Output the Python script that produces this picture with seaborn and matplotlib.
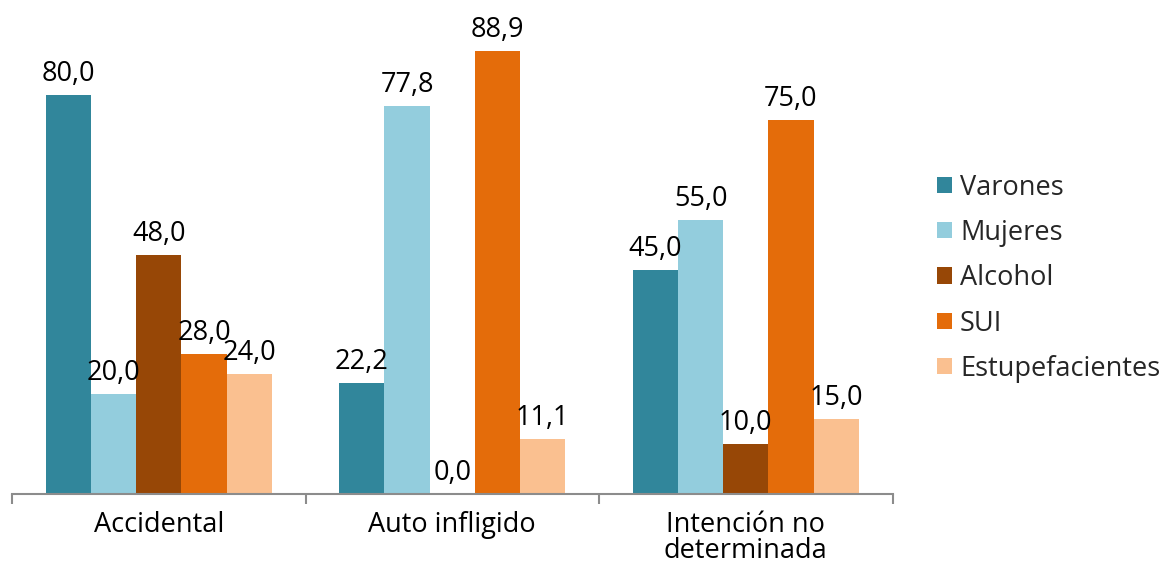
import matplotlib
matplotlib.use("Agg")
import matplotlib.pyplot as plt
import seaborn as sns
import pandas as pd

categories = ["Accidental", "Auto infligido", "Intención no\ndeterminada"]
series = ["Varones", "Mujeres", "Alcohol", "SUI", "Estupefacientes"]
varones = [80.0, 22.2, 45.0]
mujeres = [20.0, 77.8, 55.0]
alcohol = [48.0, 0.0, 10.0]
sui = [28.0, 88.9, 75.0]
estupefacientes = [24.0, 11.1, 15.0]
colors = ["#31869B", "#93CDDD", "#974706", "#E46C0A", "#FAC090"]

values = [varones, mujeres, alcohol, sui, estupefacientes]
rows = []
for name, vals in zip(series, values):
    for cat, v in zip(categories, vals):
        rows.append({"categoria": cat, "serie": name, "valor": v})
df = pd.DataFrame(rows)

sns.set_theme(style="white")
plt.rcParams["font.family"] = ["Open Sans", "DejaVu Sans"]
FS = 19.5

fig = plt.figure(figsize=(11.67, 5.65), dpi=100)
ax = fig.add_axes([0.0103, 0.1257, 0.7545, 0.794])

sns.barplot(data=df, x="categoria", y="valor", hue="serie", order=categories,
            hue_order=series, palette=colors, width=0.77, gap=0,
            saturation=1, linewidth=0, ax=ax, legend=True)

for container in ax.containers:
    ax.bar_label(container, labels=[f"{b.get_height():.1f}".replace(".", ",") for b in container],
                 padding=5, fontsize=FS, color="#000000")

ax.set_xlim(-0.5, 2.5)
ax.set_ylim(0, 90)
ax.set_xlabel("")
ax.set_ylabel("")
ax.set_yticks([])
for s in ["top", "right", "left"]:
    ax.spines[s].set_visible(False)
ax.spines["bottom"].set_color("#8C8C8C")
ax.spines["bottom"].set_linewidth(1.5)

ax.set_xticks(range(len(categories)))
ax.set_xticklabels(categories, fontsize=FS, color="#000000", linespacing=0.9)
ax.tick_params(axis="x", which="major", bottom=True, length=0, pad=12)
ax.set_xticks([-0.5, 0.5, 1.5, 2.5], minor=True)
ax.tick_params(axis="x", which="minor", bottom=True, length=7, width=1.5,
               color="#8C8C8C", direction="out")

handles, labels = ax.get_legend_handles_labels()
ax.legend(handles, labels, loc="center left", bbox_to_anchor=(1.035, 0.481),
          frameon=False, fontsize=FS, handlelength=0.55, handleheight=0.55,
          handletextpad=0.3, labelspacing=0.64, borderpad=0)

fig.savefig("out.png", dpi=100)
